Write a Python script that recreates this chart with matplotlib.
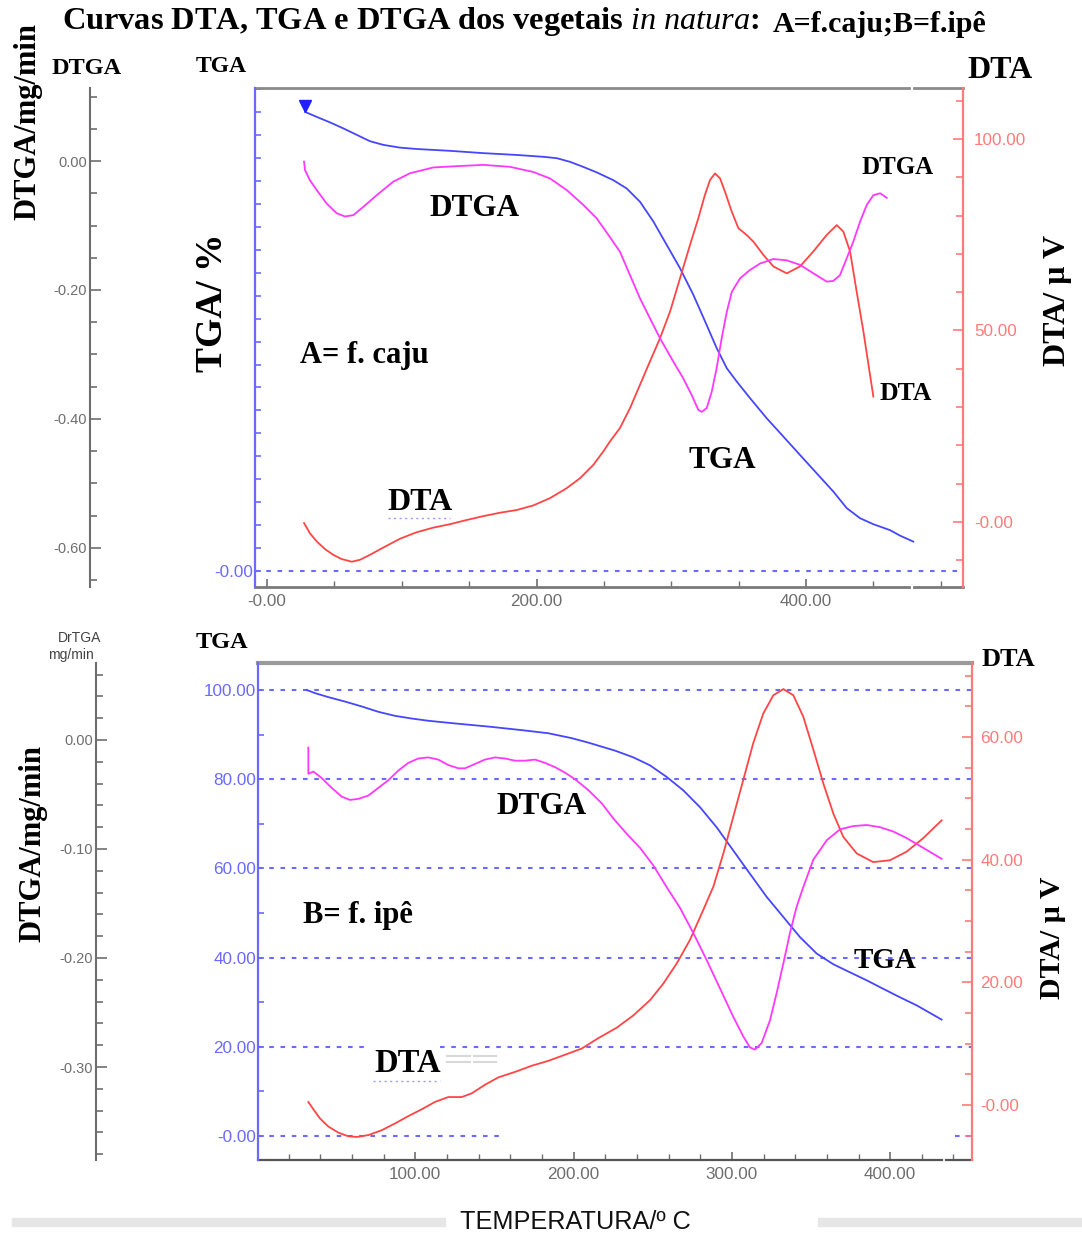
import matplotlib.pyplot as plt
from matplotlib.ticker import MultipleLocator
from matplotlib.patches import Rectangle
from matplotlib.lines import Line2D

plt.rcParams['font.family'] = ['Liberation Sans', 'DejaVu Sans']
plt.rcParams['mathtext.fontset'] = 'custom'
plt.rcParams['mathtext.it'] = 'Liberation Serif:italic'
plt.rcParams['mathtext.rm'] = 'Liberation Serif:bold'

# ---------------- A = f. caju ----------------
a_tga_t = [28.2, 36.9, 46.8, 56.6, 66.5, 76.4, 86.3, 98.7, 111.1, 135.8, 160.5, 185.3,
           205.0, 215.0, 224.9, 234.7, 244.7, 257.0, 266.9, 276.8, 286.7, 296.6, 306.5,
           316.4, 326.3, 333.7, 341.2, 348.6, 358.4, 370.8, 383.2, 395.5, 407.9, 420.3,
           430.2, 440.1, 449.9, 462.3, 469.8, 479.6]
a_tga = [100.1, 99.0, 97.8, 96.5, 95.1, 93.7, 92.9, 92.3, 92.0, 91.6, 91.1, 90.7,
         90.3, 90.0, 89.2, 88.1, 86.9, 85.2, 83.4, 80.5, 76.2, 71.1, 66.0,
         60.2, 53.6, 48.6, 44.2, 41.3, 37.7, 33.3, 29.3, 25.3, 21.3, 17.3,
         13.7, 11.5, 10.2, 8.9, 7.7, 6.4]

a_dtga_t = [27.5, 28.2, 31.9, 36.9, 44.3, 51.7, 57.9, 64.0, 71.5, 81.4, 93.7, 106.1,
            123.4, 140.8, 160.5, 180.3, 197.6, 210.0, 222.4, 234.7, 244.7, 254.5, 262.0,
            269.4, 276.8, 284.2, 291.7, 301.5, 308.9, 315.2, 320.1, 322.6, 326.3, 330.0,
            333.7, 337.4, 341.2, 344.9, 351.0, 358.4, 365.9, 375.7, 385.7, 395.5, 405.4,
            415.3, 420.2, 425.2, 430.2, 435.1, 440.1, 445.1, 450.0, 455.0, 459.9]
a_dtga = [-0.001, -0.014, -0.030, -0.045, -0.066, -0.081, -0.086, -0.084, -0.071, -0.053,
          -0.032, -0.019, -0.010, -0.008, -0.006, -0.009, -0.017, -0.027, -0.045, -0.068,
          -0.089, -0.118, -0.141, -0.177, -0.213, -0.244, -0.275, -0.311, -0.337, -0.363,
          -0.386, -0.389, -0.383, -0.358, -0.321, -0.275, -0.234, -0.203, -0.182, -0.169,
          -0.159, -0.152, -0.154, -0.161, -0.174, -0.187, -0.186, -0.177, -0.151, -0.125,
          -0.094, -0.068, -0.053, -0.050, -0.057]

a_dta_t = [27.5, 31.9, 36.9, 43.0, 49.2, 55.4, 62.9, 69.0, 76.4, 86.3, 98.7, 111.1,
           123.4, 135.8, 148.2, 160.5, 172.9, 185.3, 197.6, 210.0, 222.4, 232.3, 242.2,
           249.6, 254.5, 261.9, 269.4, 276.8, 284.2, 291.7, 299.1, 306.5, 313.9, 320.1,
           325.0, 328.8, 332.5, 336.2, 339.9, 344.9, 349.8, 356.0, 360.9, 368.4, 375.8,
           385.7, 395.5, 405.4, 415.3, 422.8, 427.7, 432.7, 437.6, 442.6, 447.5, 450.0]
a_dta = [-0.3, -3.0, -5.1, -7.1, -8.6, -9.7, -10.4, -9.9, -8.6, -6.7, -4.4, -2.7,
         -1.5, -0.6, 0.5, 1.5, 2.4, 3.1, 4.3, 6.2, 8.8, 11.4, 14.9,
         18.4, 21.0, 24.5, 29.7, 35.8, 41.9, 48.0, 54.9, 63.6, 72.3, 79.3,
         85.4, 89.3, 91.0, 89.7, 86.2, 81.0, 76.7, 74.9, 73.2, 69.7, 66.7,
         64.9, 66.7, 70.6, 74.9, 77.5, 75.8, 70.6, 60.1, 49.7, 38.4, 32.7]

# ---------------- B = f. ipê ----------------
b_tga_t = [31.4, 36.6, 45.0, 55.6, 66.2, 76.7, 87.2, 97.7, 108.2, 125.1, 146.1, 167.2,
           184.0, 198.8, 209.3, 217.7, 226.2, 237.7, 248.3, 258.8, 269.3, 279.9, 290.4,
           300.9, 311.4, 322.0, 332.5, 343.0, 353.6, 364.1, 374.6, 385.2, 395.6, 406.2,
           416.7, 432.5]
b_tga = [100.0, 99.3, 98.4, 97.4, 96.3, 95.1, 94.2, 93.6, 93.1, 92.5, 91.8, 91.0,
         90.3, 89.2, 88.2, 87.3, 86.4, 84.9, 83.1, 80.5, 77.5, 73.7, 69.2,
         64.0, 58.8, 53.6, 49.1, 44.6, 40.9, 38.5, 36.7, 34.9, 33.0, 31.1,
         29.3, 26.1]

b_dtga_t = [32.4, 32.4, 35.6, 40.9, 47.2, 53.5, 58.7, 64.0, 70.3, 76.6, 82.9, 89.3,
            95.6, 101.9, 108.2, 114.5, 120.8, 127.2, 131.4, 137.7, 144.0, 150.3, 156.7,
            163.0, 169.3, 175.6, 181.9, 188.3, 194.6, 200.9, 209.3, 217.7, 225.1, 233.5,
            242.0, 250.3, 258.8, 267.2, 275.6, 284.1, 292.5, 300.9, 307.2, 311.4, 314.6,
            318.8, 324.1, 328.3, 332.5, 336.7, 340.9, 345.1, 351.4, 359.9, 368.3, 376.7,
            385.2, 393.6, 402.0, 410.4, 420.9, 432.5]
b_dtga = [-0.007, -0.031, -0.029, -0.035, -0.044, -0.052, -0.055, -0.054, -0.051, -0.044,
          -0.037, -0.028, -0.021, -0.017, -0.016, -0.018, -0.023, -0.026, -0.026, -0.022,
          -0.018, -0.016, -0.017, -0.019, -0.019, -0.018, -0.021, -0.025, -0.030, -0.036,
          -0.046, -0.058, -0.072, -0.086, -0.099, -0.115, -0.135, -0.154, -0.177, -0.202,
          -0.228, -0.254, -0.272, -0.282, -0.284, -0.278, -0.257, -0.232, -0.205, -0.177,
          -0.153, -0.135, -0.110, -0.092, -0.082, -0.079, -0.078, -0.080, -0.084, -0.090,
          -0.099, -0.109]

b_dta_t = [32.4, 35.6, 39.8, 45.0, 51.4, 57.7, 63.0, 70.3, 78.8, 87.2, 95.6, 104.0,
           112.4, 120.8, 129.3, 135.6, 144.0, 152.4, 163.0, 173.5, 184.0, 194.6, 205.1,
           215.6, 227.2, 237.7, 248.3, 256.7, 265.2, 273.5, 281.9, 288.3, 294.6, 300.9,
           307.2, 313.5, 319.8, 326.2, 332.5, 338.8, 345.1, 351.5, 357.8, 364.1, 370.4,
           378.9, 389.3, 399.9, 410.4, 420.9, 432.5]
b_dta = [0.5, -0.7, -2.2, -3.5, -4.5, -5.1, -5.2, -4.9, -4.1, -3.0, -1.8, -0.7,
         0.5, 1.3, 1.3, 1.9, 3.3, 4.5, 5.4, 6.4, 7.2, 8.2, 9.2,
         10.9, 12.6, 14.6, 17.1, 19.8, 23.1, 26.9, 31.8, 35.6, 41.0, 47.0,
         53.0, 59.0, 63.8, 66.8, 67.8, 66.8, 63.3, 57.9, 52.4, 47.5, 43.7,
         41.0, 39.6, 39.9, 41.3, 43.5, 46.4]

# colours
TGA_C = '#4646ff'
DTA_C = '#ff4545'
DTGA_C = '#ff38ff'
BLUE_AX = '#6a6aff'
RED_AX = '#ff7a7a'
GRAY = '#6e6e6e'

W, H = 1082, 1238
fig = plt.figure(figsize=(W / 100, H / 100), dpi=100)


def fx(px):
    return px / W


def fy(py):
    return 1 - py / H


def build_panel(left, top, right, bottom, xlim, tga_lim, dta_lim, dtga_lim,
                dtga_x, gap, frame_c, frame_lw):
    ax = fig.add_axes([fx(left), fy(bottom), (right - left) / W, (bottom - top) / H])
    ax.set_xlim(xlim)
    ax.set_ylim(tga_lim)
    dta = ax.twinx()
    dta.set_ylim(dta_lim)
    dtga = ax.twinx()
    dtga.set_ylim(dtga_lim)
    for a in (ax, dta, dtga):
        for s in a.spines.values():
            s.set_visible(False)
    ax.spines['left'].set_visible(True)
    ax.spines['left'].set_color(BLUE_AX)
    ax.spines['left'].set_linewidth(1.6)
    dta.spines['right'].set_visible(True)
    dta.spines['right'].set_color(RED_AX)
    dta.spines['right'].set_linewidth(1.6)
    dtga.spines['left'].set_visible(True)
    dtga.spines['left'].set_position(('axes', (dtga_x - left) / (right - left)))
    dtga.spines['left'].set_color(GRAY)
    dtga.spines['left'].set_linewidth(1.5)
    dtga.yaxis.set_ticks_position('left')
    dtga.yaxis.set_label_position('left')
    # top / bottom frame with the small break near the right end
    for yy, c, lw in ((1, frame_c[0], frame_lw[0]), (0, frame_c[1], frame_lw[1])):
        ax.plot([0, gap[0]], [yy, yy], transform=ax.transAxes, clip_on=False, color=c, lw=lw)
        ax.plot([gap[1], 1], [yy, yy], transform=ax.transAxes, clip_on=False, color=c, lw=lw)
    ax.tick_params(axis='x', which='both', direction='in', colors=GRAY, labelsize=12.3,
                   pad=5)
    ax.tick_params(axis='x', which='major', length=6, width=1.2)
    ax.tick_params(axis='x', which='minor', length=4, width=1)
    ax.tick_params(axis='y', which='both', direction='in', colors=BLUE_AX, labelsize=12.3,
                   pad=1.5, length=4, width=1.2)
    dta.tick_params(axis='y', which='both', direction='in', colors=RED_AX, labelsize=12.3,
                    pad=8, width=1.2)
    dta.tick_params(axis='y', which='major', length=7)
    dta.tick_params(axis='y', which='minor', length=5)
    dtga.tick_params(axis='y', which='both', direction='in', colors=GRAY, labelsize=10.5,
                     pad=2, width=1.2)
    dtga.tick_params(axis='y', which='major', length=8)
    dtga.tick_params(axis='y', which='minor', length=5)
    return ax, dta, dtga


DOT = (0, (2.2, 3.2))

# ---------------- top panel (A) ----------------
ax, dta, dtga = build_panel(255, 88, 963, 587, (-8.9, 516.5), (-3.5, 105.3),
                            (-17.0, 113.3), (-0.6605, 0.1132), 90,
                            (0.924, 0.931), ('#8a8a8a', '#7a7a7a'), (2.0, 2.0))
ax.set_xticks([0, 200, 400], labels=['-0.00', '200.00', '400.00'])
ax.xaxis.set_minor_locator(MultipleLocator(50))
ax.set_yticks([0], labels=['-0.00'])
ax.yaxis.set_minor_locator(MultipleLocator(5))
dta.set_yticks([0, 50, 100], labels=['-0.00', '50.00', '100.00'])
dta.yaxis.set_minor_locator(MultipleLocator(10))
dtga.set_yticks([0, -0.2, -0.4, -0.6], labels=['0.00', '-0.20', '-0.40', '-0.60'])
dtga.yaxis.set_minor_locator(MultipleLocator(0.05))
ax.axhline(0, color=BLUE_AX, ls=DOT, lw=1.5)

ax.plot(a_tga_t, a_tga, color=TGA_C, lw=1.3)
ax.plot(a_tga_t[0], a_tga[0] + 1.2, marker='v', color='#2020ff', ms=8)
dta.plot(a_dta_t, a_dta, color=DTA_C, lw=1.3)
dtga.plot(a_dtga_t, a_dtga, color=DTGA_C, lw=1.3)

# ---------------- bottom panel (B) ----------------
bx, bdta, bdtga = build_panel(258, 663, 972, 1160, (0.6, 451.7), (-5.38, 106.05),
                              (-8.96, 72.05), (-0.3853, 0.0706), 96,
                              (0.958, 0.963), ('#9a9a9a', '#555555'), (3.0, 1.6))
bx.set_xticks([100, 200, 300, 400], labels=['100.00', '200.00', '300.00', '400.00'])
bx.xaxis.set_minor_locator(MultipleLocator(20))
bx.set_yticks([0, 20, 40, 60, 80, 100],
              labels=['-0.00', '20.00', '40.00', '60.00', '80.00', '100.00'])
bx.yaxis.set_minor_locator(MultipleLocator(10))
bdta.set_yticks([0, 20, 40, 60], labels=['-0.00', '20.00', '40.00', '60.00'])
bdta.yaxis.set_minor_locator(MultipleLocator(5))
bdtga.set_yticks([0, -0.1, -0.2, -0.3], labels=['0.00', '-0.10', '-0.20', '-0.30'])
bdtga.yaxis.set_minor_locator(MultipleLocator(0.02))
bdta.tick_params(axis='y', pad=6)

for v in (40, 60, 80, 100):
    bx.axhline(v, color=BLUE_AX, ls=DOT, lw=1.5)
bx.axhline(20, xmax=0.157, color=BLUE_AX, ls=DOT, lw=1.5)
bx.axhline(20, xmin=0.255, color=BLUE_AX, ls=DOT, lw=1.5)
bx.axhline(0, xmax=0.346, color=BLUE_AX, ls=DOT, lw=1.5)
bx.axhline(0, xmin=0.976, color=BLUE_AX, ls=DOT, lw=1.5)

bx.plot(b_tga_t, b_tga, color=TGA_C, lw=1.3)
bdta.plot(b_dta_t, b_dta, color=DTA_C, lw=1.3)
bdtga.plot(b_dtga_t, b_dtga, color=DTGA_C, lw=1.3)


# ---------------- texts ----------------
def label(px, py, s, size, rot=0, **kw):
    fig.text(fx(px), fy(py), s, fontsize=size, rotation=rot, ha='center', va='center',
             family='Liberation Serif', weight='bold', **kw)


def fig_line(x0, x1, py, color, ls, lw=1.0):
    fig.add_artist(Line2D([fx(x0), fx(x1)], [fy(py), fy(py)], transform=fig.transFigure,
                          color=color, ls=ls, lw=lw))


fig.text(fx(62), fy(21), r'Curvas DTA, TGA e DTGA dos vegetais $\mathit{in\ natura}$:',
         fontsize=23.3, ha='left', va='center', family='Liberation Serif', weight='bold')
fig.text(fx(773), fy(24), 'A=f.caju;B=f.ipê', fontsize=21.5, ha='left', va='center',
         family='Liberation Serif', weight='bold')

label(28, 122, 'DTGA/mg/min', 22, rot=90)
label(87, 68, 'DTGA', 17.5)
label(221, 66, 'TGA', 17)
label(1000, 71, 'DTA', 23)
label(212, 303, 'TGA/ %', 27, rot=90)
label(1057, 300, 'DTA/ µ V', 23, rot=90)
label(475, 209, 'DTGA', 22.5)
label(364, 356, 'A= f. caju', 22)
label(420, 502, 'DTA', 23)
label(722, 460, 'TGA', 22.5)
label(898, 168, 'DTGA', 18)
label(906, 394, 'DTA', 18.5)
fig_line(388, 450, 518, '#9b9bff', (0, (1.5, 2.5)))

fig.text(fx(80), fy(638), 'DrTGA', fontsize=10, ha='center', va='center', color='#444444')
fig.text(fx(71), fy(655), 'mg/min', fontsize=10, ha='center', va='center', color='#444444')
label(222, 643, 'TGA', 17.5)
label(1008, 660, 'DTA', 19)
label(33, 843, 'DTGA/mg/min', 22, rot=90)
label(1053, 938, 'DTA/ µ V', 21.5, rot=90)
label(542, 806, 'DTGA', 22.5)
label(358, 915, 'B= f. ipê', 22)
label(885, 960, 'TGA', 21)
label(408, 1063, 'DTA', 23.5)
fig_line(373, 440, 1081, '#9b9bff', (0, (1.5, 2.5)))
fig_line(447, 470, 1056, '#d8d8d8', '-', 1.5)
fig_line(474, 496, 1056, '#d8d8d8', '-', 1.5)
fig_line(447, 470, 1062, '#d8d8d8', '-', 1.5)
fig_line(474, 496, 1062, '#d8d8d8', '-', 1.5)

fig.patches.append(Rectangle((fx(12), fy(1226)), fx(445) - fx(12), 8 / H,
                             transform=fig.transFigure, color='#e6e6e6', zorder=0))
fig.patches.append(Rectangle((fx(818), fy(1226)), fx(1082) - fx(818), 8 / H,
                             transform=fig.transFigure, color='#e6e6e6', zorder=0))
fig.text(fx(575), fy(1222), 'TEMPERATURA/º C', fontsize=18.2, ha='center', va='center',
         color='#111111', bbox=dict(facecolor='white', edgecolor='none', pad=2))

fig.savefig('out.png', dpi=100)
